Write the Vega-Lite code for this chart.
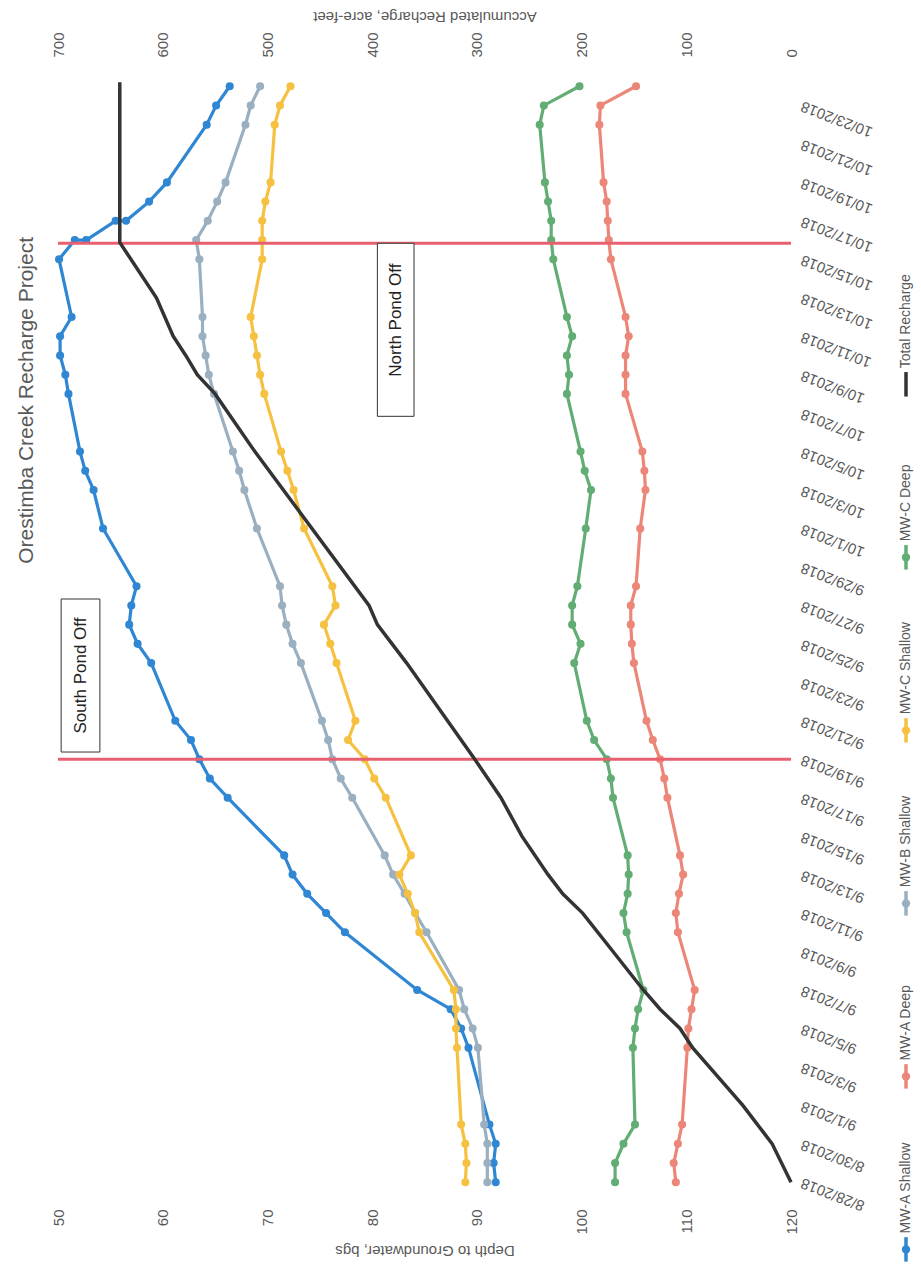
{
  "$schema": "https://vega.github.io/schema/vega-lite/v6.json",
  "background": "white",
  "padding": {"left": 15, "top": 8, "right": 0, "bottom": 0},
  "config": {
    "view": {"stroke": null},
    "font": "Liberation Sans",
    "axis": {"labelColor": "#595959", "titleColor": "#595959", "domain": false, "ticks": false, "grid": false, "labelFont": "Liberation Sans", "titleFont": "Liberation Sans", "titleFontWeight": "normal"},
    "axisY": {"labelOverlap": false}
  },
  "datasets": {
    "wells": [
      {"d":"2018-08-28","s":"MW-A Shallow","v":91.8},{"d":"2018-08-29","s":"MW-A Shallow","v":91.6},{"d":"2018-08-30","s":"MW-A Shallow","v":91.8},{"d":"2018-08-31","s":"MW-A Shallow","v":91.2},
      {"d":"2018-09-04","s":"MW-A Shallow","v":89.2},{"d":"2018-09-05","s":"MW-A Shallow","v":88.5},{"d":"2018-09-06","s":"MW-A Shallow","v":87.5},{"d":"2018-09-07","s":"MW-A Shallow","v":84.3},
      {"d":"2018-09-10","s":"MW-A Shallow","v":77.4},{"d":"2018-09-11","s":"MW-A Shallow","v":75.6},{"d":"2018-09-12","s":"MW-A Shallow","v":73.8},{"d":"2018-09-13","s":"MW-A Shallow","v":72.4},{"d":"2018-09-14","s":"MW-A Shallow","v":71.6},
      {"d":"2018-09-17","s":"MW-A Shallow","v":66.2},{"d":"2018-09-18","s":"MW-A Shallow","v":64.5},{"d":"2018-09-19","s":"MW-A Shallow","v":63.5},{"d":"2018-09-20","s":"MW-A Shallow","v":62.7},{"d":"2018-09-21","s":"MW-A Shallow","v":61.2},
      {"d":"2018-09-24","s":"MW-A Shallow","v":58.9},{"d":"2018-09-25","s":"MW-A Shallow","v":57.6},{"d":"2018-09-26","s":"MW-A Shallow","v":56.8},{"d":"2018-09-27","s":"MW-A Shallow","v":57.0},{"d":"2018-09-28","s":"MW-A Shallow","v":57.5},
      {"d":"2018-10-01","s":"MW-A Shallow","v":54.3},{"d":"2018-10-03","s":"MW-A Shallow","v":53.4},{"d":"2018-10-04","s":"MW-A Shallow","v":52.6},{"d":"2018-10-05","s":"MW-A Shallow","v":52.1},
      {"d":"2018-10-08","s":"MW-A Shallow","v":51.0},{"d":"2018-10-09","s":"MW-A Shallow","v":50.7},{"d":"2018-10-10","s":"MW-A Shallow","v":50.2},{"d":"2018-10-11","s":"MW-A Shallow","v":50.2},{"d":"2018-10-12","s":"MW-A Shallow","v":51.3},
      {"d":"2018-10-15","s":"MW-A Shallow","v":50.1},{"d":"2018-10-16","s":"MW-A Shallow","v":51.6},{"d":"2018-10-16","s":"MW-A Shallow","v":52.7},{"d":"2018-10-17","s":"MW-A Shallow","v":55.5},{"d":"2018-10-17","s":"MW-A Shallow","v":56.5},
      {"d":"2018-10-18","s":"MW-A Shallow","v":58.7},{"d":"2018-10-19","s":"MW-A Shallow","v":60.4},{"d":"2018-10-22","s":"MW-A Shallow","v":64.2},{"d":"2018-10-23","s":"MW-A Shallow","v":65.1},{"d":"2018-10-24","s":"MW-A Shallow","v":66.4},

      {"d":"2018-08-28","s":"MW-B Shallow","v":91.0},{"d":"2018-08-29","s":"MW-B Shallow","v":91.0},{"d":"2018-08-30","s":"MW-B Shallow","v":91.0},{"d":"2018-08-31","s":"MW-B Shallow","v":90.7},
      {"d":"2018-09-04","s":"MW-B Shallow","v":90.1},{"d":"2018-09-05","s":"MW-B Shallow","v":89.6},{"d":"2018-09-06","s":"MW-B Shallow","v":88.8},{"d":"2018-09-07","s":"MW-B Shallow","v":88.3},
      {"d":"2018-09-10","s":"MW-B Shallow","v":85.2},{"d":"2018-09-11","s":"MW-B Shallow","v":84.1},{"d":"2018-09-12","s":"MW-B Shallow","v":83.1},{"d":"2018-09-13","s":"MW-B Shallow","v":82.0},{"d":"2018-09-14","s":"MW-B Shallow","v":81.2},
      {"d":"2018-09-17","s":"MW-B Shallow","v":78.1},{"d":"2018-09-18","s":"MW-B Shallow","v":77.0},{"d":"2018-09-19","s":"MW-B Shallow","v":76.2},{"d":"2018-09-20","s":"MW-B Shallow","v":75.8},{"d":"2018-09-21","s":"MW-B Shallow","v":75.2},
      {"d":"2018-09-24","s":"MW-B Shallow","v":73.2},{"d":"2018-09-25","s":"MW-B Shallow","v":72.4},{"d":"2018-09-26","s":"MW-B Shallow","v":71.8},{"d":"2018-09-27","s":"MW-B Shallow","v":71.4},{"d":"2018-09-28","s":"MW-B Shallow","v":71.2},
      {"d":"2018-10-01","s":"MW-B Shallow","v":69.0},{"d":"2018-10-03","s":"MW-B Shallow","v":67.8},{"d":"2018-10-04","s":"MW-B Shallow","v":67.3},{"d":"2018-10-05","s":"MW-B Shallow","v":66.7},
      {"d":"2018-10-08","s":"MW-B Shallow","v":64.9},{"d":"2018-10-09","s":"MW-B Shallow","v":64.4},{"d":"2018-10-10","s":"MW-B Shallow","v":64.1},{"d":"2018-10-11","s":"MW-B Shallow","v":63.8},{"d":"2018-10-12","s":"MW-B Shallow","v":63.8},
      {"d":"2018-10-15","s":"MW-B Shallow","v":63.5},{"d":"2018-10-16","s":"MW-B Shallow","v":63.2},{"d":"2018-10-17","s":"MW-B Shallow","v":64.3},{"d":"2018-10-18","s":"MW-B Shallow","v":65.2},{"d":"2018-10-19","s":"MW-B Shallow","v":66.0},
      {"d":"2018-10-22","s":"MW-B Shallow","v":67.9},{"d":"2018-10-23","s":"MW-B Shallow","v":68.4},{"d":"2018-10-24","s":"MW-B Shallow","v":69.3},

      {"d":"2018-08-28","s":"MW-C Shallow","v":88.9},{"d":"2018-08-29","s":"MW-C Shallow","v":89.0},{"d":"2018-08-30","s":"MW-C Shallow","v":88.9},{"d":"2018-08-31","s":"MW-C Shallow","v":88.5},
      {"d":"2018-09-04","s":"MW-C Shallow","v":88.1},{"d":"2018-09-05","s":"MW-C Shallow","v":88.0},{"d":"2018-09-06","s":"MW-C Shallow","v":88.0},{"d":"2018-09-07","s":"MW-C Shallow","v":87.8},
      {"d":"2018-09-10","s":"MW-C Shallow","v":84.5},{"d":"2018-09-11","s":"MW-C Shallow","v":84.1},{"d":"2018-09-12","s":"MW-C Shallow","v":83.4},{"d":"2018-09-13","s":"MW-C Shallow","v":82.6},{"d":"2018-09-14","s":"MW-C Shallow","v":83.7},
      {"d":"2018-09-17","s":"MW-C Shallow","v":81.3},{"d":"2018-09-18","s":"MW-C Shallow","v":80.2},{"d":"2018-09-19","s":"MW-C Shallow","v":79.3},{"d":"2018-09-20","s":"MW-C Shallow","v":77.7},{"d":"2018-09-21","s":"MW-C Shallow","v":78.4},
      {"d":"2018-09-24","s":"MW-C Shallow","v":76.6},{"d":"2018-09-25","s":"MW-C Shallow","v":76.0},{"d":"2018-09-26","s":"MW-C Shallow","v":75.4},{"d":"2018-09-27","s":"MW-C Shallow","v":76.5},{"d":"2018-09-28","s":"MW-C Shallow","v":76.2},
      {"d":"2018-10-01","s":"MW-C Shallow","v":73.5},{"d":"2018-10-03","s":"MW-C Shallow","v":72.5},{"d":"2018-10-04","s":"MW-C Shallow","v":71.9},{"d":"2018-10-05","s":"MW-C Shallow","v":71.3},
      {"d":"2018-10-08","s":"MW-C Shallow","v":69.7},{"d":"2018-10-09","s":"MW-C Shallow","v":69.3},{"d":"2018-10-10","s":"MW-C Shallow","v":69.0},{"d":"2018-10-11","s":"MW-C Shallow","v":68.7},{"d":"2018-10-12","s":"MW-C Shallow","v":68.4},
      {"d":"2018-10-15","s":"MW-C Shallow","v":69.5},{"d":"2018-10-16","s":"MW-C Shallow","v":69.5},{"d":"2018-10-17","s":"MW-C Shallow","v":69.5},{"d":"2018-10-18","s":"MW-C Shallow","v":69.8},{"d":"2018-10-19","s":"MW-C Shallow","v":70.3},
      {"d":"2018-10-22","s":"MW-C Shallow","v":70.7},{"d":"2018-10-23","s":"MW-C Shallow","v":71.2},{"d":"2018-10-24","s":"MW-C Shallow","v":72.2},

      {"d":"2018-08-28","s":"MW-C Deep","v":103.2},{"d":"2018-08-29","s":"MW-C Deep","v":103.2},{"d":"2018-08-30","s":"MW-C Deep","v":104.0},{"d":"2018-08-31","s":"MW-C Deep","v":105.1},
      {"d":"2018-09-04","s":"MW-C Deep","v":104.9},{"d":"2018-09-05","s":"MW-C Deep","v":105.1},{"d":"2018-09-06","s":"MW-C Deep","v":105.4},{"d":"2018-09-07","s":"MW-C Deep","v":105.9},
      {"d":"2018-09-10","s":"MW-C Deep","v":104.3},{"d":"2018-09-11","s":"MW-C Deep","v":104.0},{"d":"2018-09-12","s":"MW-C Deep","v":104.4},{"d":"2018-09-13","s":"MW-C Deep","v":104.5},{"d":"2018-09-14","s":"MW-C Deep","v":104.4},
      {"d":"2018-09-17","s":"MW-C Deep","v":103.0},{"d":"2018-09-18","s":"MW-C Deep","v":102.8},{"d":"2018-09-19","s":"MW-C Deep","v":102.4},{"d":"2018-09-20","s":"MW-C Deep","v":101.2},{"d":"2018-09-21","s":"MW-C Deep","v":100.5},
      {"d":"2018-09-24","s":"MW-C Deep","v":99.3},{"d":"2018-09-25","s":"MW-C Deep","v":99.9},{"d":"2018-09-26","s":"MW-C Deep","v":99.1},{"d":"2018-09-27","s":"MW-C Deep","v":99.1},{"d":"2018-09-28","s":"MW-C Deep","v":99.6},
      {"d":"2018-10-01","s":"MW-C Deep","v":100.4},{"d":"2018-10-03","s":"MW-C Deep","v":100.9},{"d":"2018-10-04","s":"MW-C Deep","v":100.3},{"d":"2018-10-05","s":"MW-C Deep","v":99.9},
      {"d":"2018-10-08","s":"MW-C Deep","v":98.6},{"d":"2018-10-09","s":"MW-C Deep","v":98.8},{"d":"2018-10-10","s":"MW-C Deep","v":98.6},{"d":"2018-10-11","s":"MW-C Deep","v":99.1},{"d":"2018-10-12","s":"MW-C Deep","v":98.6},
      {"d":"2018-10-15","s":"MW-C Deep","v":97.3},{"d":"2018-10-16","s":"MW-C Deep","v":97.1},{"d":"2018-10-17","s":"MW-C Deep","v":97.1},{"d":"2018-10-18","s":"MW-C Deep","v":96.8},{"d":"2018-10-19","s":"MW-C Deep","v":96.5},
      {"d":"2018-10-22","s":"MW-C Deep","v":96.0},{"d":"2018-10-23","s":"MW-C Deep","v":96.4},{"d":"2018-10-24","s":"MW-C Deep","v":99.8},

      {"d":"2018-08-28","s":"MW-A Deep","v":109.0},{"d":"2018-08-29","s":"MW-A Deep","v":108.8},{"d":"2018-08-30","s":"MW-A Deep","v":109.2},{"d":"2018-08-31","s":"MW-A Deep","v":109.6},
      {"d":"2018-09-04","s":"MW-A Deep","v":110.1},{"d":"2018-09-05","s":"MW-A Deep","v":110.2},{"d":"2018-09-06","s":"MW-A Deep","v":110.5},{"d":"2018-09-07","s":"MW-A Deep","v":110.8},
      {"d":"2018-09-10","s":"MW-A Deep","v":109.2},{"d":"2018-09-11","s":"MW-A Deep","v":109.0},{"d":"2018-09-12","s":"MW-A Deep","v":109.3},{"d":"2018-09-13","s":"MW-A Deep","v":109.7},{"d":"2018-09-14","s":"MW-A Deep","v":109.4},
      {"d":"2018-09-17","s":"MW-A Deep","v":108.2},{"d":"2018-09-18","s":"MW-A Deep","v":107.9},{"d":"2018-09-19","s":"MW-A Deep","v":107.5},{"d":"2018-09-20","s":"MW-A Deep","v":106.8},{"d":"2018-09-21","s":"MW-A Deep","v":106.2},
      {"d":"2018-09-24","s":"MW-A Deep","v":105.0},{"d":"2018-09-25","s":"MW-A Deep","v":104.8},{"d":"2018-09-26","s":"MW-A Deep","v":104.7},{"d":"2018-09-27","s":"MW-A Deep","v":104.7},{"d":"2018-09-28","s":"MW-A Deep","v":105.2},
      {"d":"2018-10-01","s":"MW-A Deep","v":105.6},{"d":"2018-10-03","s":"MW-A Deep","v":106.1},{"d":"2018-10-04","s":"MW-A Deep","v":106.0},{"d":"2018-10-05","s":"MW-A Deep","v":105.8},
      {"d":"2018-10-08","s":"MW-A Deep","v":104.2},{"d":"2018-10-09","s":"MW-A Deep","v":104.2},{"d":"2018-10-10","s":"MW-A Deep","v":104.2},{"d":"2018-10-11","s":"MW-A Deep","v":104.5},{"d":"2018-10-12","s":"MW-A Deep","v":104.2},
      {"d":"2018-10-15","s":"MW-A Deep","v":102.8},{"d":"2018-10-16","s":"MW-A Deep","v":102.6},{"d":"2018-10-17","s":"MW-A Deep","v":102.5},{"d":"2018-10-18","s":"MW-A Deep","v":102.4},{"d":"2018-10-19","s":"MW-A Deep","v":102.1},
      {"d":"2018-10-22","s":"MW-A Deep","v":101.7},{"d":"2018-10-23","s":"MW-A Deep","v":101.8},{"d":"2018-10-24","s":"MW-A Deep","v":105.2}
    ],
    "recharge": [
      {"d":"2018-08-28","r":0},{"d":"2018-08-30","r":18},{"d":"2018-09-01","r":46},{"d":"2018-09-04","r":94},{"d":"2018-09-05","r":106},
      {"d":"2018-09-06","r":125},{"d":"2018-09-07","r":141},{"d":"2018-09-09","r":170},{"d":"2018-09-11","r":199},{"d":"2018-09-12","r":218},
      {"d":"2018-09-13","r":232},{"d":"2018-09-15","r":257},{"d":"2018-09-17","r":277},{"d":"2018-09-19","r":302},{"d":"2018-09-24","r":367},
      {"d":"2018-09-26","r":395},{"d":"2018-09-27","r":403},{"d":"2018-10-05","r":512},{"d":"2018-10-08","r":550},{"d":"2018-10-09","r":567},
      {"d":"2018-10-10","r":578},{"d":"2018-10-11","r":590},{"d":"2018-10-13","r":606},{"d":"2018-10-15T21:00:00Z","r":641},{"d":"2018-10-24T05:00:00Z","r":641}
    ],
    "events": [
      {"d":"2018-09-19","e":"South Pond Off"},
      {"d":"2018-10-15T20:00:00Z","e":"North Pond Off"}
    ],
    "notes": [
      {"t":"South Pond Off","x1":50.3,"x2":54.0,"xc":52.15,"d1":"2018-09-19T09:00:00Z","d2":"2018-09-27T08:00:00Z","dc":"2018-09-23T08:30:00Z"},
      {"t":"North Pond Off","x1":80.5,"x2":84.0,"xc":82.25,"d1":"2018-10-06T20:00:00Z","d2":"2018-10-15T20:00:00Z","dc":"2018-10-11T20:00:00Z"}
    ],
    "legend": [
      {"s":"Total Recharge"},{"s":"MW-C Deep"},{"s":"MW-C Shallow"},{"s":"MW-B Shallow"},{"s":"MW-A Deep"},{"s":"MW-A Shallow"}
    ]
  },
  "spacing": 22,
  "hconcat": [
    {
      "width": 733,
      "height": 1107,
      "title": {"text": "Orestimba Creek Recharge Project", "orient": "left", "anchor": "end", "frame": "group", "dx": -155, "offset": 14, "fontSize": 21, "fontWeight": "normal", "color": "#595959", "font": "Liberation Sans"},
      "layer": [
        {
          "layer": [
            {
              "data": {"name": "wells"},
              "mark": {"type": "line", "strokeWidth": 3.2, "point": {"filled": true, "size": 65, "opacity": 1}},
              "encoding": {
                "x": {"field": "v", "type": "quantitative", "title": "Depth to Groundwater, bgs",
                  "scale": {"domain": [50, 120], "nice": false, "zero": false},
                  "axis": {"orient": "bottom", "values": [50, 60, 70, 80, 90, 100, 110, 120], "labelAngle": -90, "labelAlign": "right", "labelBaseline": "middle", "labelPadding": 20, "labelFontSize": 15, "labelFlush": false, "titleAngle": 180, "titleBaseline": "bottom", "titlePadding": 8, "titleFontSize": 15}},
                "y": {"field": "d", "type": "temporal", "title": null,
                  "scale": {"type": "utc", "domain": [{"year": 2018, "month": 8, "date": 27, "hours": 15, "minutes": 36, "utc": true}, {"year": 2018, "month": 10, "date": 24, "hours": 5, "minutes": 17, "utc": true}]},
                  "axis": {"orient": "right", "format": "%-m/%-d/%Y", "tickCount": 60, "labelAngle": 201, "labelAlign": "right", "labelBaseline": "middle", "labelPadding": 10, "labelFontSize": 15, "labelOverlap": false, "labelFlush": false,
                    "values": [
                      {"year":2018,"month":8,"date":28,"utc":true},{"year":2018,"month":8,"date":30,"utc":true},
                      {"year":2018,"month":9,"date":1,"utc":true},{"year":2018,"month":9,"date":3,"utc":true},{"year":2018,"month":9,"date":5,"utc":true},{"year":2018,"month":9,"date":7,"utc":true},
                      {"year":2018,"month":9,"date":9,"utc":true},{"year":2018,"month":9,"date":11,"utc":true},{"year":2018,"month":9,"date":13,"utc":true},{"year":2018,"month":9,"date":15,"utc":true},
                      {"year":2018,"month":9,"date":17,"utc":true},{"year":2018,"month":9,"date":19,"utc":true},{"year":2018,"month":9,"date":21,"utc":true},{"year":2018,"month":9,"date":23,"utc":true},
                      {"year":2018,"month":9,"date":25,"utc":true},{"year":2018,"month":9,"date":27,"utc":true},{"year":2018,"month":9,"date":29,"utc":true},
                      {"year":2018,"month":10,"date":1,"utc":true},{"year":2018,"month":10,"date":3,"utc":true},{"year":2018,"month":10,"date":5,"utc":true},{"year":2018,"month":10,"date":7,"utc":true},
                      {"year":2018,"month":10,"date":9,"utc":true},{"year":2018,"month":10,"date":11,"utc":true},{"year":2018,"month":10,"date":13,"utc":true},{"year":2018,"month":10,"date":15,"utc":true},
                      {"year":2018,"month":10,"date":17,"utc":true},{"year":2018,"month":10,"date":19,"utc":true},{"year":2018,"month":10,"date":21,"utc":true},{"year":2018,"month":10,"date":23,"utc":true}
                    ]}},
                "color": {"field": "s", "type": "nominal", "legend": null,
                  "scale": {"domain": ["MW-A Shallow", "MW-A Deep", "MW-B Shallow", "MW-C Shallow", "MW-C Deep", "Total Recharge"], "range": ["#2F87D3", "#EB8678", "#9AAFC0", "#F6C141", "#62AD74", "#333333"]}},
                "order": {"field": "d", "type": "temporal"}
              }
            },
            {
              "data": {"name": "events"},
              "mark": {"type": "rule", "color": "#E8606F", "strokeWidth": 3},
              "encoding": {"y": {"field": "d", "type": "temporal", "title": null}}
            },
            {
              "data": {"name": "notes"},
              "mark": {"type": "rect", "fill": "white", "stroke": "#333333", "strokeWidth": 1},
              "encoding": {
                "x": {"field": "x1", "type": "quantitative", "title": "Depth to Groundwater, bgs"},
                "x2": {"field": "x2"},
                "y": {"field": "d1", "type": "temporal", "title": null},
                "y2": {"field": "d2"}
              }
            },
            {
              "data": {"name": "notes"},
              "mark": {"type": "text", "angle": 270, "fontSize": 17, "color": "#222222", "font": "Liberation Sans", "align": "center", "baseline": "middle"},
              "encoding": {
                "x": {"field": "xc", "type": "quantitative", "title": "Depth to Groundwater, bgs"},
                "y": {"field": "dc", "type": "temporal", "title": null},
                "text": {"field": "t"}
              }
            }
          ]
        },
        {
          "data": {"name": "recharge"},
          "mark": {"type": "line", "color": "#333333", "strokeWidth": 3.5},
          "encoding": {
            "x": {"field": "r", "type": "quantitative", "title": "Accumulated Recharge, acre-feet",
              "scale": {"domain": [0, 700], "reverse": true, "nice": false, "zero": false},
              "axis": {"orient": "top", "values": [0, 100, 200, 300, 400, 500, 600, 700], "labelAngle": -90, "labelAlign": "left", "labelBaseline": "middle", "labelPadding": 25, "labelFontSize": 15, "labelFlush": false, "titleAngle": 180, "titleBaseline": "top", "titlePadding": 8, "titleFontSize": 15}},
            "y": {"field": "d", "type": "temporal", "title": null},
            "order": {"field": "d", "type": "temporal"}
          }
        }
      ],
      "resolve": {"scale": {"x": "independent"}, "axis": {"x": "independent"}}
    },
    {
      "width": 20,
      "height": 1180,
      "data": {"name": "legend"},
      "encoding": {
        "y": {"field": "s", "type": "nominal", "axis": null,
          "sort": ["Total Recharge", "MW-C Deep", "MW-C Shallow", "MW-B Shallow", "MW-A Deep", "MW-A Shallow"],
          "scale": {"type": "point", "padding": 0.91, "align": 0.96}},
        "color": {"field": "s", "type": "nominal", "legend": null,
          "scale": {"domain": ["MW-A Shallow", "MW-A Deep", "MW-B Shallow", "MW-C Shallow", "MW-C Deep", "Total Recharge"], "range": ["#2F87D3", "#EB8678", "#9AAFC0", "#F6C141", "#62AD74", "#333333"]}}
      },
      "layer": [
        {"mark": {"type": "point", "shape": "M0,-1L0,1", "filled": false, "strokeWidth": 3.5, "size": 600, "opacity": 1}},
        {"transform": [{"filter": "datum.s !== 'Total Recharge'"}], "mark": {"type": "point", "shape": "circle", "filled": true, "size": 70, "opacity": 1}},
        {"mark": {"type": "text", "angle": 270, "align": "left", "baseline": "middle", "dx": 16, "fontSize": 14, "font": "Liberation Sans"},
          "encoding": {"text": {"field": "s"}, "color": {"value": "#595959"}}}
      ]
    }
  ]
}
